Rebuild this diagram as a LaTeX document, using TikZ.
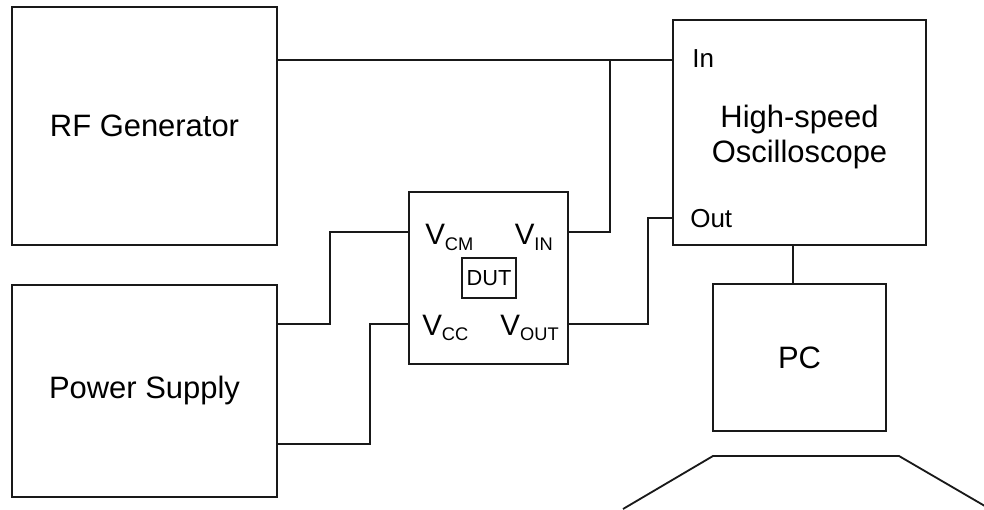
\documentclass[tikz,border=0pt]{standalone}
\usepackage{fontspec}
\setmainfont{Liberation Sans}
\usepackage{tikz}
\usetikzlibrary{positioning}
\definecolor{wiregray}{RGB}{25,25,25}
\newcommand{\pinsub}[1]{V\raisebox{-4pt}{\fontsize{13}{13}\selectfont #1}}

\begin{document}
\begin{tikzpicture}[
        block/.style={draw=wiregray, line width=1.3pt, minimum width=6.625cm, minimum height=5.3cm, align=center, font=\fontsize{22}{25}\selectfont, inner sep=0pt},
        chip/.style={draw=wiregray, line width=1.3pt, minimum width=1.35cm, minimum height=1cm, font=\fontsize{15.5}{17}\selectfont, inner sep=0pt},
        wire/.style={line width=1.3pt, draw=wiregray},
        pin/.style={font=\fontsize{21}{25}\selectfont, inner sep=0pt},
        port/.style={font=\fontsize{18.5}{22}\selectfont, inner sep=0pt, anchor=base west}
      ]
      \useasboundingbox (0,0) rectangle (24.6,12.725);

      \node[block, minimum height=5.95cm] (rf) at (3.6125,9.575) {RF Generator};
      \node[block] (ps) at (3.6125,2.95) {Power Supply};
      \node[block, minimum width=3.975cm, minimum height=4.3cm] (dut) at (12.2125,5.775) {};
      \node[chip] (core) at (12.225,5.775) {DUT};
      \node[block, minimum width=6.325cm, minimum height=5.625cm] (osc) at (19.9875,9.4125) {};
      \node[align=center, font=\fontsize{22}{25}\selectfont, inner sep=0pt] (osctext) at (19.9875,9.3) {High-speed\\Oscilloscope};
      \node[block, minimum width=4.325cm, minimum height=3.675cm] (pc) at (19.9875,3.7875) {PC};

      % pin labels of the DUT
      \node[pin, anchor=base west] (lcm) at (10.625,6.6) {\pinsub{CM}};
      \node[pin, anchor=base east] (lin) at (13.825,6.6) {\pinsub{IN}};
      \node[pin, anchor=base west] (lcc) at (10.55,4.35) {\pinsub{CC}};
      \node[pin, anchor=base east] (lout) at (13.975,4.35) {\pinsub{OUT}};
      \node[port] (lscin) at (17.3,11.025) {In};
      \node[port] (lscout) at (17.25,7.025) {Out};

      % connection points
      \coordinate (oscin) at (osc.west |- 0,11.225);
      \coordinate (oscout) at (osc.west |- 0,7.275);
      \coordinate (rfout) at (rf.east |- oscin);
      \coordinate (tap) at (15.25,11.225);
      \coordinate (vcm) at (dut.west |- 0,6.925);
      \coordinate (vcc) at (dut.west |- 0,4.625);
      \coordinate (vin) at (dut.east |- 0,6.925);
      \coordinate (vout) at (dut.east |- 0,4.625);
      \coordinate (psa) at (ps.east |- 0,4.625);
      \coordinate (psb) at (ps.east |- 0,1.625);

      \draw[wire] (rfout) -- (oscin);
      \draw[wire] (vin) -| (tap);
      \draw[wire] (psa) -- ++(1.3,0) |- (vcm);
      \draw[wire] (psb) -- ++(2.3,0) |- (vcc);
      \draw[wire] (vout) -- ++(1.975,0) |- (oscout);
      \draw[wire] ([xshift=-0.1625cm]osc.south) -- ([xshift=-0.1625cm]pc.north);

      % screen outline, cut by the lower edge
      \draw[wire] (15.575,0) -- (17.825,1.325) -- (22.475,1.325) -- (24.75,0);
    \end{tikzpicture}
\end{document}
